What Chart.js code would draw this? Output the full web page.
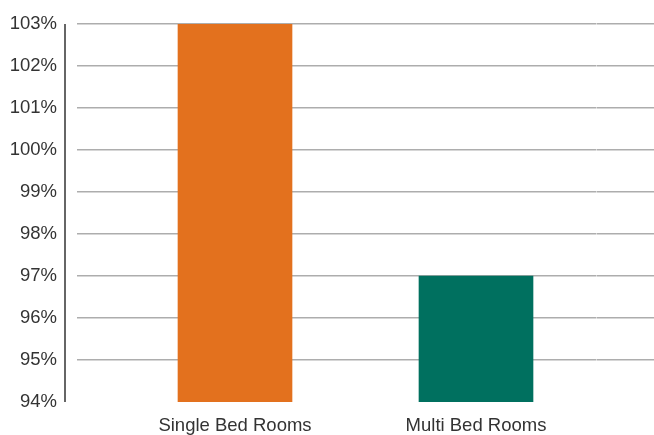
<!DOCTYPE html>
<html>
<head>
<meta charset="utf-8">
<script src="https://cdn.jsdelivr.net/npm/chart.js@4/dist/chart.umd.min.js"></script>
<style>
    html, body { margin: 0; padding: 0; background: #fff; }
    #wrap { width: 654px; height: 435px; }
</style>
</head>
<body>
<div id="wrap"><canvas id="occupancy-chart"></canvas></div>
<script>
// Occupancy by room type
const categories = ['Single Bed Rooms', 'Multi Bed Rooms'];
const occupancy = [103, 97];
const barColors = ['#E3711E', '#00705F'];
const yTicks = [94, 95, 96, 97, 98, 99, 100, 101, 102, 103];

const FONT = { family: '"Liberation Sans", Arial, sans-serif', size: 18.5 };
const GRID_COLOR = '#ADADAD';

// grid lines stick out past the plot on both sides (drawn as long tick marks)
const LEFT_STUB = 37.5;
const RIGHT_STUB = 57.5;

// no line for the bottom tick
const gridColor = ctx => ctx.tick && ctx.tick.value === yTicks[0] ? 'rgba(0,0,0,0)' : GRID_COLOR;

// Vertical axis line, a little left of where the grid lines start
const axisLine = {
    id: 'axisLine',
    afterDraw(chart) {
        const y = chart.scales.y;
        const ctx = chart.ctx;
        const x = y.right - LEFT_STUB - 12;
        ctx.save();
        ctx.strokeStyle = '#333333';
        ctx.lineWidth = 1.5;
        ctx.beginPath();
        ctx.moveTo(x, y.getPixelForValue(yTicks[yTicks.length - 1]));
        ctx.lineTo(x, y.getPixelForValue(yTicks[0]));
        ctx.stroke();
        ctx.restore();
    }
};

const noPad = scale => {
    scale.paddingTop = 0;
    scale.paddingBottom = 0;
    scale.paddingLeft = 0;
    scale.paddingRight = 0;
};

const occupancyChart = new Chart(
    document.getElementById('occupancy-chart'),
    {
        type: 'bar',
        data: {
            labels: categories,
            datasets: [
                {
                    data: occupancy,
                    backgroundColor: barColors,
                    borderWidth: 0,
                    barThickness: 114,
                    yAxisID: 'y'
                }
            ]
        },
        options: {
            responsive: true,
            maintainAspectRatio: false,
            animation: false,
            layout: { padding: { top: 24, right: 0, bottom: 0, left: 0 } },
            plugins: {
                legend: { display: false },
                tooltip: { enabled: false }
            },
            scales: {
                x: {
                    grid: { display: false, drawTicks: false },
                    border: { display: false },
                    afterFit: scale => { noPad(scale); scale.height = 33; },
                    ticks: {
                        color: '#333333',
                        font: FONT,
                        padding: 12.5,
                        maxRotation: 0,
                        autoSkip: false
                    }
                },
                y: {
                    position: 'left',
                    min: yTicks[0],
                    max: yTicks[yTicks.length - 1],
                    afterBuildTicks: scale => {
                        scale.ticks = yTicks.map(v => ({ value: v }));
                    },
                    afterFit: scale => { noPad(scale); scale.width = 114.5; },
                    grid: {
                        drawTicks: true,
                        tickLength: LEFT_STUB,
                        lineWidth: 1.5,
                        color: gridColor
                    },
                    border: { display: false },
                    ticks: {
                        color: '#333333',
                        font: FONT,
                        padding: 20,
                        callback: value => value + '%'
                    }
                },
                y2: {
                    type: 'linear',
                    position: 'right',
                    min: yTicks[0],
                    max: yTicks[yTicks.length - 1],
                    afterBuildTicks: scale => {
                        scale.ticks = yTicks.map(v => ({ value: v }));
                    },
                    afterFit: scale => { noPad(scale); scale.width = RIGHT_STUB; },
                    grid: {
                        drawOnChartArea: false,
                        drawTicks: true,
                        tickLength: RIGHT_STUB,
                        lineWidth: 1.5,
                        color: gridColor
                    },
                    border: { display: false },
                    ticks: { display: false }
                }
            }
        },
        plugins: [axisLine]
    }
);
</script>
</body>
</html>
